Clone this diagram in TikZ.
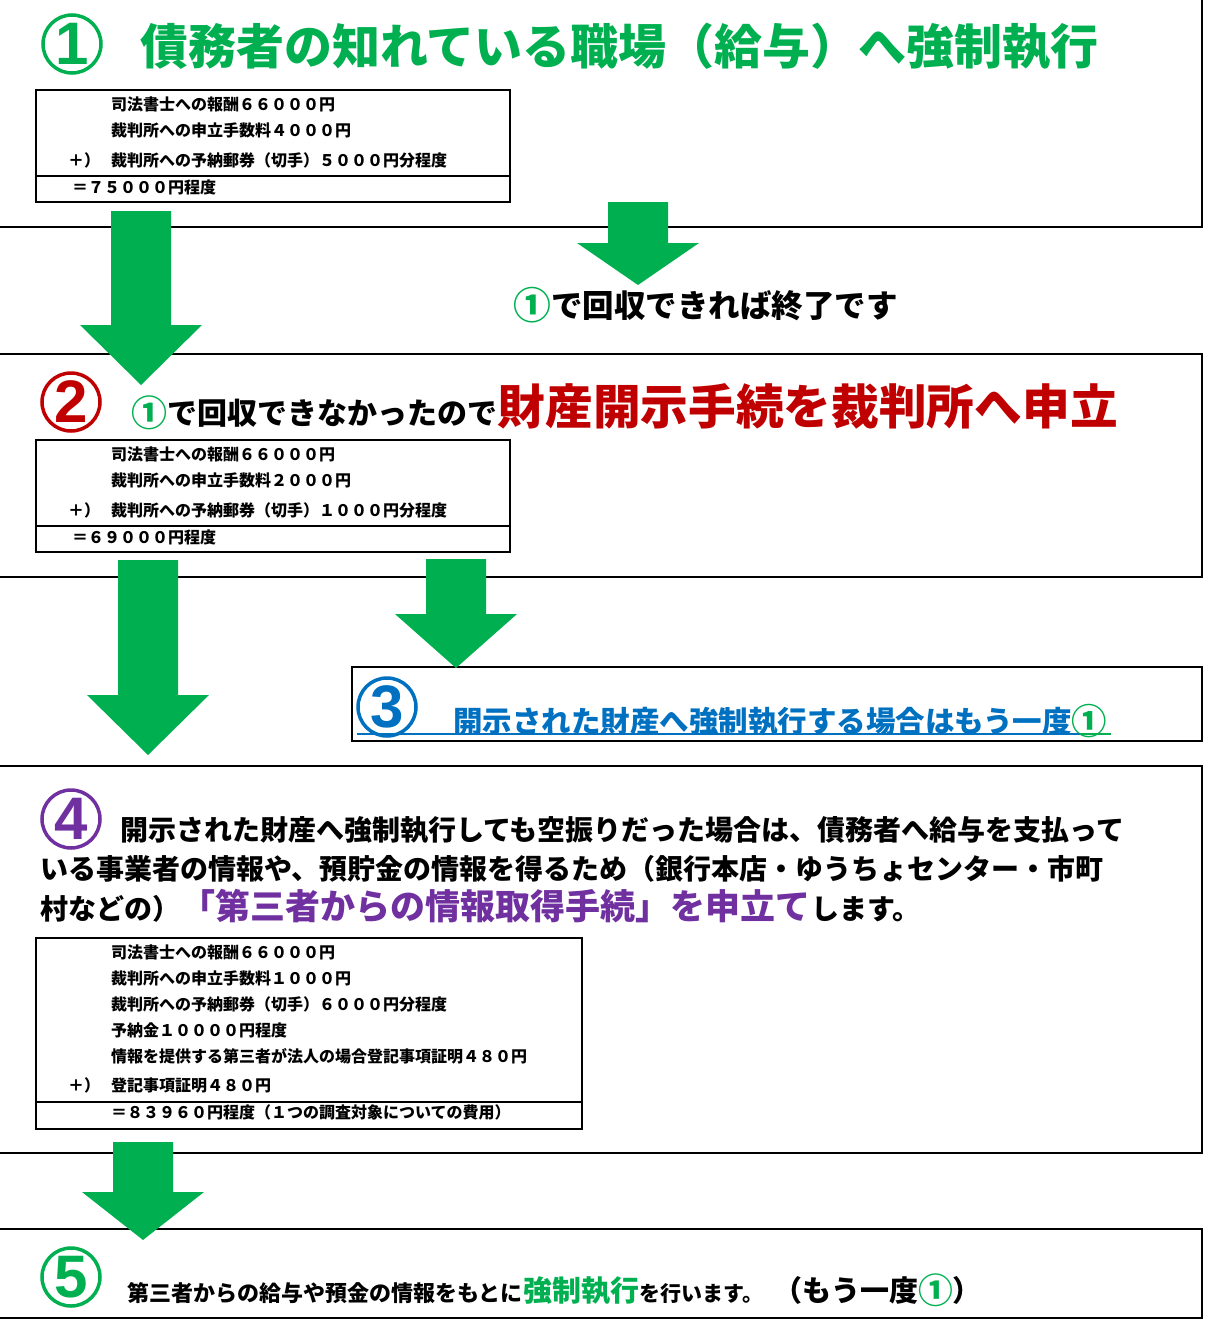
\documentclass[tikz,border=0pt]{standalone}
\usepackage{fontspec}
\setmainfont{Noto Sans CJK JP}
\newfontfamily\digitfont{Liberation Sans}
\usepackage{graphicx}
\usepackage{tikz}
\usetikzlibrary{positioning, calc}
\usepackage{xcolor}

\definecolor{okgreen}{HTML}{00B050}
\definecolor{okred}{HTML}{C00000}
\definecolor{okblue}{HTML}{0070C0}
\definecolor{okpurple}{HTML}{7030A0}

\newcommand{\fs}[1]{\fontsize{#1}{#1}\selectfont}
\newcommand{\backone}{{\color{okgreen}\raisebox{-0.06em}{\scalebox{1.2}{①}}}}
% block arrow from top coordinate to tip coordinate, head length #3
\newcommand{\bigarrow}[3]{%
  \fill[okgreen] ($(#1)+(-30,0)$) -- ($(#2)+(-30,-#3)$) -- ($(#2)+(-61,-#3)$) -- (#2)
    -- ($(#2)+(61,-#3)$) -- ($(#2)+(30,-#3)$) -- ($(#1)+(30,0)$) -- cycle;}

\begin{document}
\begin{tikzpicture}[
    x=1pt, y=-1pt,
    numring/.style={circle, draw=#1, text=#1, line width=3.5pt, minimum size=58pt, inner sep=0pt, font=\digitfont\bfseries\fs{60}},
    frame/.style={draw=black, line width=1.5pt},
    costbox/.style={draw=black, line width=1.2pt},
    costrow/.style={anchor=west, inner sep=0pt, font=\bfseries\fs{16}},
    head/.style={anchor=west, inner sep=0pt, font=\bfseries\fs{#1}},
    tail/.style={anchor=base west, inner sep=0pt, font=\bfseries\fs{#1}}
]
\useasboundingbox (0,0) rectangle (1204,1319);

% Section frames
\draw[frame] (-5,-5) rectangle (1202,227);
\draw[frame] (-5,354) rectangle (1202,577);
\draw[frame] (352,667) rectangle (1202,741);
\draw[frame] (-5,766) rectangle (1202,1153);
\draw[frame] (-5,1229) rectangle (1202,1318);

% Step 1
\node[numring=okgreen] (c1) at (72,44) {1};
\node[head=48, text=okgreen] (t1) at (140,47) {債務者の知れている職場（給与）へ強制執行};
\draw[costbox] (36,90) rectangle (510,202);
\draw[costbox] (36,176) -- (510,176);
\node[costrow] (r11) at (111,104) {司法書士への報酬６６０００円};
\node[costrow] (r12) at (111,130) {裁判所への申立手数料４０００円};
\node[costrow] (p1) at (68,160) {＋）};
\node[costrow] (r13) at (111,160) {裁判所への予納郵券（切手）５０００円分程度};
\node[costrow] (s1) at (72,187) {＝７５０００円程度};

% Arrows out of step 1
\coordinate (a1) at (141,211); \coordinate (a1e) at (141,385);
\coordinate (b1) at (638,202); \coordinate (b1e) at (638,285);
\bigarrow{a1}{a1e}{60}
\bigarrow{b1}{b1e}{42}
\node[head=31.5] (done) at (513,305) {\backone で回収できれば終了です};

% Step 2
\node[numring=okred] (c2) at (71,402) {2};
\node[head=30] (t2a) at (131,413) {\backone で回収できなかったので};
\node[tail=47.7, text=okred] (t2b) at (t2a.base east) {財産開示手続を裁判所へ申立};
\draw[costbox] (36,440) rectangle (510,552);
\draw[costbox] (36,526) -- (510,526);
\node[costrow] (r21) at (111,454) {司法書士への報酬６６０００円};
\node[costrow] (r22) at (111,480) {裁判所への申立手数料２０００円};
\node[costrow] (p2) at (68,510) {＋）};
\node[costrow] (r23) at (111,510) {裁判所への予納郵券（切手）１０００円分程度};
\node[costrow] (s2) at (72,537) {＝６９０００円程度};

% Arrows out of step 2
\coordinate (a2) at (148,560); \coordinate (a2e) at (148,755);
\coordinate (b2) at (456,559); \coordinate (b2e) at (456,668);
\bigarrow{a2}{a2e}{60}
\bigarrow{b2}{b2e}{54}

% Step 3
\node[numring=okblue] (c3) at (387,707) {3};
\node[head=29.5, text=okblue] (t3) at (453,721) {開示された財産へ強制執行する場合はもう一度\backone};
\draw[okblue, line width=2pt] (357,734) -- (1080,734);
\draw[okgreen, line width=2pt] (1080,734) -- (1111,734);

% Step 4
\node[numring=okpurple] (c4) at (71,819) {4};
\node[head=28] (l41) at (120,830) {開示された財産へ強制執行しても空振りだった場合は、債務者へ給与を支払って};
\node[head=28] (l42) at (40,869) {いる事業者の情報や、預貯金の情報を得るため（銀行本店・ゆうちょセンター・市町};
\node[head=28] (l43) at (40,909) {村などの）};
\node[tail=35, text=okpurple] (l43b) at (l43.base east) {「第三者からの情報取得手続」を申立て};
\node[tail=28] (l43c) at (l43b.base east) {します。};
\draw[costbox] (36,938) rectangle (582,1129);
\draw[costbox] (36,1102) -- (582,1102);
\node[costrow] (r41) at (111,952) {司法書士への報酬６６０００円};
\node[costrow] (r42) at (111,978) {裁判所への申立手数料１０００円};
\node[costrow] (r43) at (111,1004) {裁判所への予納郵券（切手）６０００円分程度};
\node[costrow] (r44) at (111,1030) {予納金１００００円程度};
\node[costrow] (r45) at (111,1056) {情報を提供する第三者が法人の場合登記事項証明４８０円};
\node[costrow] (p4) at (68,1085) {＋）};
\node[costrow] (r46) at (111,1085) {登記事項証明４８０円};
\node[costrow] (s4) at (111,1112) {＝８３９６０円程度（１つの調査対象についての費用）};

% Arrow out of step 4
\coordinate (a4) at (143,1142); \coordinate (a4e) at (143,1240);
\bigarrow{a4}{a4e}{48}

% Step 5
\node[numring=okgreen] (c5) at (71,1277) {5};
\node[head=22] (t5a) at (127,1293) {第三者からの給与や預金の情報をもとに};
\node[tail=29, text=okgreen] (t5b) at (t5a.base east) {強制執行};
\node[tail=21] (t5c) at (t5b.base east) {を行います。};
\node[tail=29] (t5d) at ($(t5c.base east)+(10,0)$) {（もう一度\backone）};
\end{tikzpicture}
\end{document}
